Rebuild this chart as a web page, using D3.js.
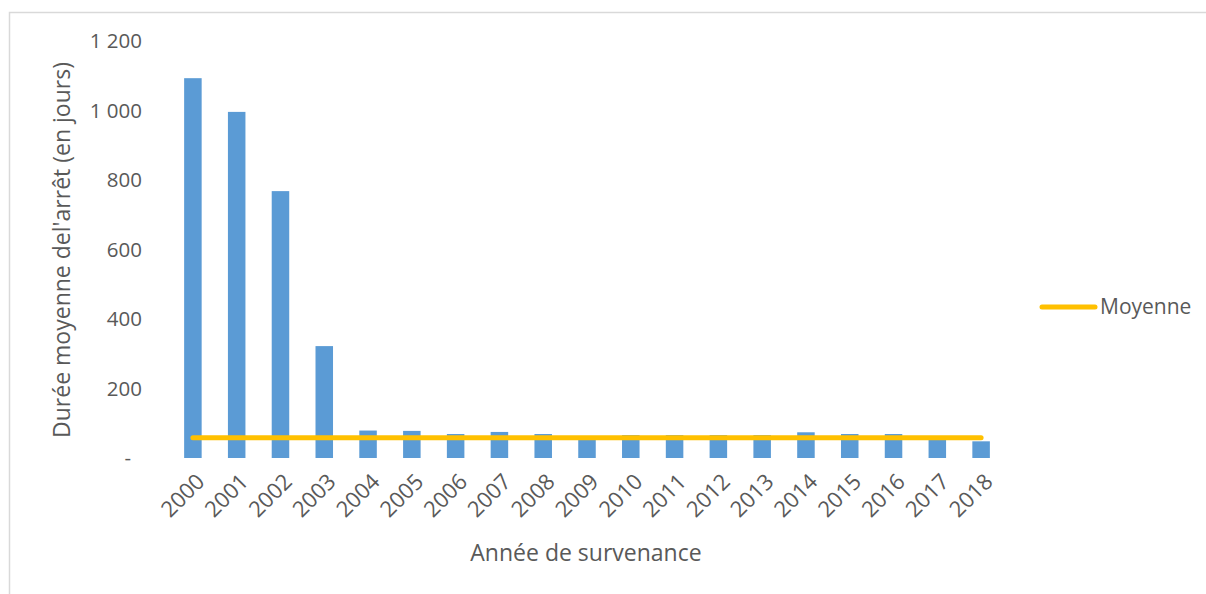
<!DOCTYPE html>
<html>
<head>
<meta charset="utf-8">
<script src="https://cdn.jsdelivr.net/npm/d3@7"></script>
<style>
  body { margin: 0; background: #fff; }
  text { font-family: "Open Sans", sans-serif; fill: #595959; }
</style>
</head>
<body>
<div id="chart"></div>
<script>
const years = ['2000', '2001', '2002', '2003', '2004', '2005', '2006', '2007', '2008', '2009',
  '2010', '2011', '2012', '2013', '2014', '2015', '2016', '2017', '2018']
const durations = [1093, 996, 768, 322, 79, 78, 69, 75, 69, 62, 66, 66, 66, 66, 74, 69, 69, 60, 48]
const moyenne = 58
const yTicks = [0, 200, 400, 600, 800, 1000, 1200]

const width = 1206
const height = 594
const marginLeft = 171
const plotRight = 1003
const plotTop = 41
const plotBottom = 458

const svg = d3.select('#chart')
  .append('svg')
  .attr('width', width)
  .attr('height', height)

// chart frame (only top and left edges visible)
svg.append('rect')
  .attr('x', 9.5)
  .attr('y', 12.5)
  .attr('width', 1400)
  .attr('height', 800)
  .attr('fill', 'none')
  .attr('stroke', '#d9d9d9')
  .attr('stroke-width', 1.5)

const xScale = d3.scaleBand()
  .domain(years)
  .range([marginLeft, plotRight])
  .paddingInner(0.6)
  .paddingOuter(0.3)

const yScale = d3.scaleLinear()
  .domain([0, 1200])
  .range([plotBottom, plotTop])

// y axis labels, no line
const fmt = d => d === 0 ? '-' : d3.format(',')(d).replace(',', ' ')
const yAxis = d3.axisLeft(yScale)
  .tickValues(yTicks)
  .tickSize(0)
  .tickPadding(0)
  .tickFormat(fmt)

const gy = svg.append('g')
  .attr('transform', 'translate(142,0)')
  .call(yAxis)
gy.select('.domain').remove()
gy.selectAll('text')
  .style('font-size', '20.5px')
  .style('font-family', '"Open Sans", sans-serif')
  .attr('fill', '#595959')
  .attr('dx', d => d === 0 ? '-11' : '0')

// bars
svg.selectAll('rect.bar')
  .data(years)
  .enter()
  .append('rect')
  .attr('class', 'bar')
  .attr('x', d => xScale(d))
  .attr('y', (d, i) => yScale(durations[i]))
  .attr('width', xScale.bandwidth())
  .attr('height', (d, i) => plotBottom - yScale(durations[i]))
  .attr('fill', '#5b9bd5')

// mean line
const line = d3.line()
  .x(d => xScale(d) + xScale.bandwidth() / 2)
  .y(() => yScale(moyenne))

svg.append('path')
  .datum(years)
  .attr('d', line)
  .attr('fill', 'none')
  .attr('stroke', '#ffc000')
  .attr('stroke-width', 5)
  .attr('stroke-linecap', 'round')

// x axis labels, rotated
const xAxis = d3.axisBottom(xScale)
  .tickSize(0)
  .tickPadding(0)

const gx = svg.append('g')
  .attr('transform', 'translate(0,' + plotBottom + ')')
  .call(xAxis)
gx.select('.domain').remove()
gx.selectAll('text')
  .style('font-size', '22px')
  .style('font-family', '"Open Sans", sans-serif')
  .attr('fill', '#595959')
  .attr('text-anchor', 'end')
  .attr('dy', '0')
  .attr('transform', 'translate(13,25) rotate(-45)')

// axis titles
svg.append('text')
  .attr('x', 586)
  .attr('y', 561)
  .attr('text-anchor', 'middle')
  .style('font-size', '23px')
  .text('Année de survenance')

svg.append('text')
  .attr('transform', 'translate(70,250) rotate(-90)')
  .attr('text-anchor', 'middle')
  .style('font-size', '23px')
  .text("Durée moyenne del'arrêt (en jours)")

// legend
svg.append('line')
  .attr('x1', 1042)
  .attr('x2', 1095)
  .attr('y1', 307)
  .attr('y2', 307)
  .attr('stroke', '#ffc000')
  .attr('stroke-width', 5)
  .attr('stroke-linecap', 'round')

svg.append('text')
  .attr('x', 1100)
  .attr('y', 314)
  .style('font-size', '21px')
  .text('Moyenne')
</script>
</body>
</html>
